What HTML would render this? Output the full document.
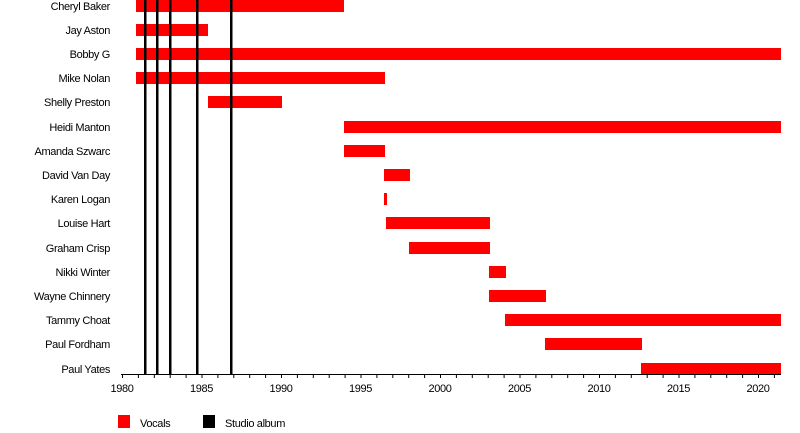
<!DOCTYPE html>
<html><head><style>body{margin:0;background:#fff}svg{display:block}text{font-family:"Liberation Sans",sans-serif;font-size:11px;fill:#000;letter-spacing:-0.35px}</style></head>
<body>
<svg width="800" height="433" xmlns="http://www.w3.org/2000/svg">
<g fill="#f00">
<rect x="136" y="0" width="208" height="12"/>
<rect x="136" y="24" width="72" height="12"/>
<rect x="136" y="48" width="645" height="12"/>
<rect x="136" y="72" width="249" height="12"/>
<rect x="208" y="96" width="74" height="12"/>
<rect x="344" y="121" width="437" height="12"/>
<rect x="344" y="145" width="41" height="12"/>
<rect x="384" y="169" width="26" height="12"/>
<rect x="384" y="193" width="3" height="12"/>
<rect x="386" y="217" width="104" height="12"/>
<rect x="409" y="242" width="81" height="12"/>
<rect x="489" y="266" width="17" height="12"/>
<rect x="489" y="290" width="57" height="12"/>
<rect x="505" y="314" width="276" height="12"/>
<rect x="545" y="338" width="97" height="12"/>
<rect x="641" y="363" width="140" height="12"/>
</g>
<g fill="#000">
<rect x="144" y="0" width="2.5" height="374"/>
<rect x="156" y="0" width="2.5" height="374"/>
<rect x="169" y="0" width="2.5" height="374"/>
<rect x="196" y="0" width="2.5" height="374"/>
<rect x="230" y="0" width="2.5" height="374"/>
</g>
<g text-anchor="end">
<text x="110" y="10">Cheryl Baker</text>
<text x="110" y="34">Jay Aston</text>
<text x="110" y="58">Bobby G</text>
<text x="110" y="82">Mike Nolan</text>
<text x="110" y="106">Shelly Preston</text>
<text x="110" y="131">Heidi Manton</text>
<text x="110" y="155">Amanda Szwarc</text>
<text x="110" y="179">David Van Day</text>
<text x="110" y="203">Karen Logan</text>
<text x="110" y="227">Louise Hart</text>
<text x="110" y="252">Graham Crisp</text>
<text x="110" y="276">Nikki Winter</text>
<text x="110" y="300">Wayne Chinnery</text>
<text x="110" y="324">Tammy Choat</text>
<text x="110" y="348">Paul Fordham</text>
<text x="110" y="373">Paul Yates</text>
</g>
<line x1="121" y1="374.5" x2="781" y2="374.5" stroke="#000" stroke-width="1"/>
<g text-anchor="middle">
<text x="122" y="392">1980</text>
<text x="201.5" y="392">1985</text>
<text x="281" y="392">1990</text>
<text x="360.5" y="392">1995</text>
<text x="440" y="392">2000</text>
<text x="519.5" y="392">2005</text>
<text x="599" y="392">2010</text>
<text x="678.5" y="392">2015</text>
<text x="758" y="392">2020</text>
</g>
<path stroke="#000" stroke-width="1" d="M122.5 374v4M138.4 374v4M154.3 374v4M170.2 374v4M186.1 374v4M202 374v4M217.9 374v4M233.8 374v4M249.7 374v4M265.6 374v4M281.5 374v4M297.4 374v4M313.3 374v4M329.2 374v4M345.1 374v4M361 374v4M376.9 374v4M392.8 374v4M408.7 374v4M424.6 374v4M440.5 374v4M456.4 374v4M472.3 374v4M488.2 374v4M504.1 374v4M520 374v4M535.9 374v4M551.8 374v4M567.7 374v4M583.6 374v4M599.5 374v4M615.4 374v4M631.3 374v4M647.2 374v4M663.1 374v4M679 374v4M694.9 374v4M710.8 374v4M726.7 374v4M742.6 374v4M758.5 374v4M774.4 374v4"/>
<rect x="118" y="415" width="12" height="13" fill="#f00"/>
<text x="140" y="427">Vocals</text>
<rect x="203" y="415" width="12" height="13" fill="#000"/>
<text x="225" y="427">Studio album</text>
</svg>
</body></html>
